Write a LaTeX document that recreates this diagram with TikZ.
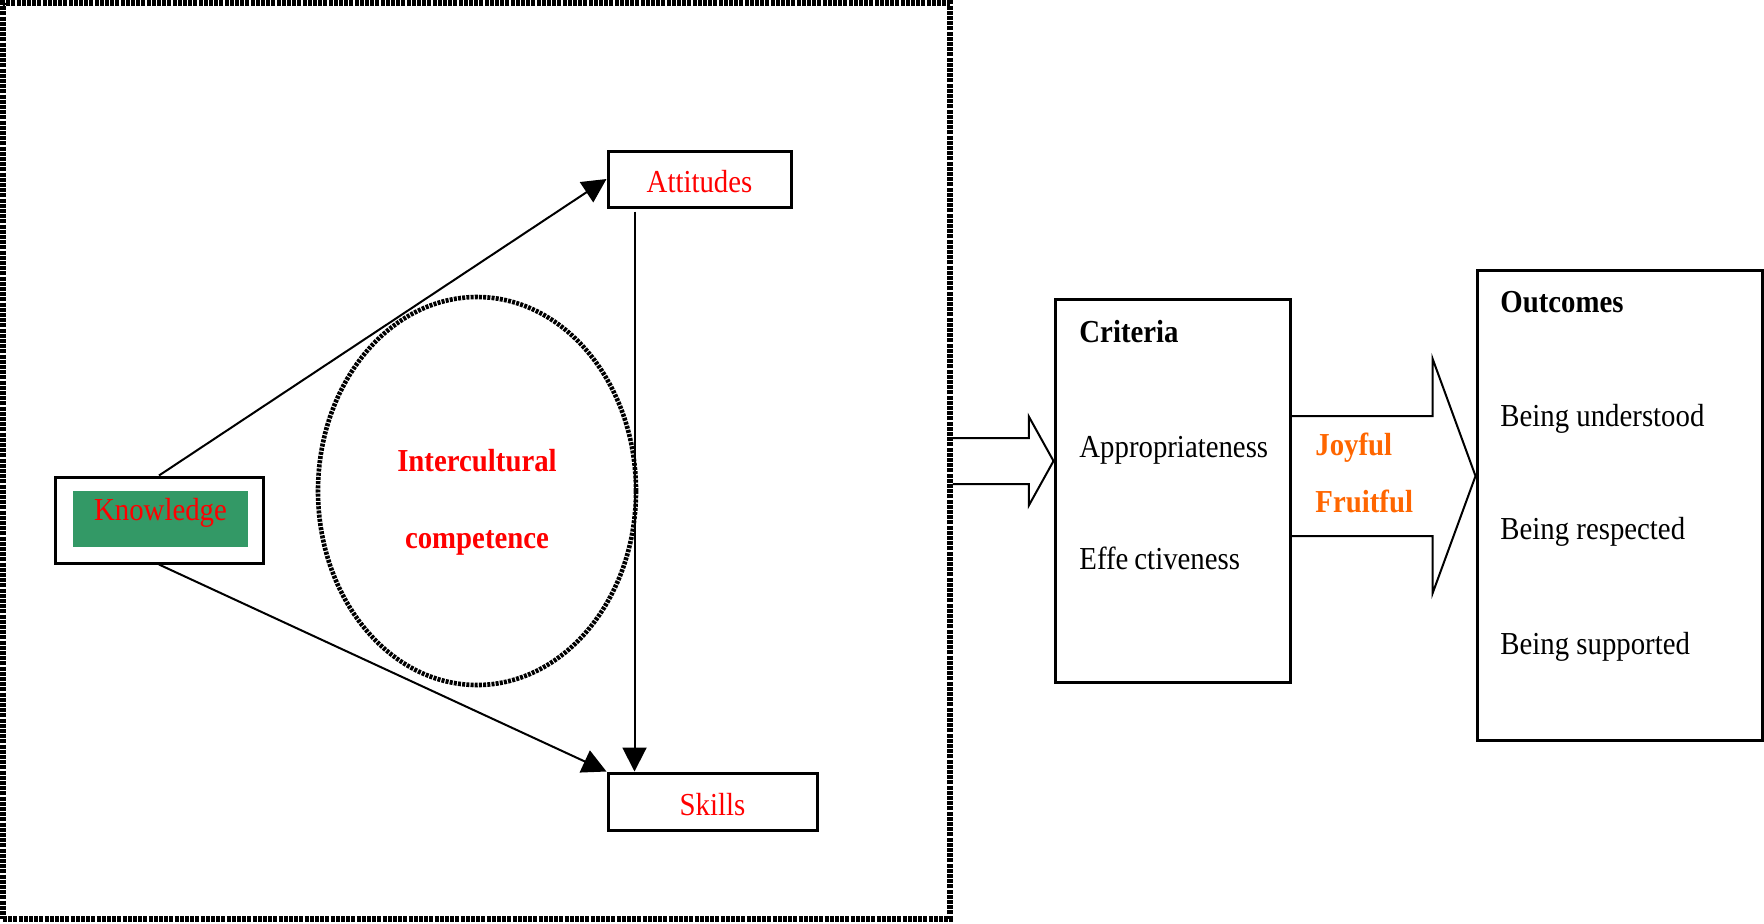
\documentclass[tikz,border=0pt]{standalone}
\usepackage{fontspec}
\setmainfont[FakeStretch=0.9]{Liberation Serif}
\usetikzlibrary{arrows.meta,calc,shapes.geometric}
\definecolor{kgreen}{RGB}{51,153,102}
\definecolor{jorange}{RGB}{255,102,0}

\begin{document}
\begin{tikzpicture}[
      x=0.5pt, y=-0.5pt,
      every node/.style={font=\fontsize{16}{19}\selectfont},
      box/.style={draw, line width=1.5pt, inner sep=0pt},
      starline/.style={draw, line width=2.8pt, dash pattern=on 2pt off 0.6pt},
      ringline/.style={draw, line width=2.3pt, dash pattern=on 1.5pt off 0.6pt},
      txt/.style={inner sep=0pt, anchor=west},
      head/.style={txt, font=\bfseries\fontsize{16}{19}\selectfont},
      link/.style={line width=1pt, -{Triangle[length=12pt,width=12pt]}},
      blk/.style={line width=1pt}
    ]
\useasboundingbox (0,0) rectangle (1764,923);

% Left panel
      \node[starline, minimum width=473.5pt, minimum height=458pt] (panel) at (476.5,461) {};
      \node[box, minimum width=104pt, minimum height=43pt] (kbox) at (159,520) {};
      \node[fill=kgreen, text=red, inner sep=0pt, minimum width=87.5pt, minimum height=28pt,
      text depth=10pt] (know) at (160.5,519) {Knowledge};
      \node[box, text=red, minimum width=91.5pt, minimum height=28pt, text height=14pt] (att) at (699.5,179) {Attitudes};
      \node[box, text=red, minimum width=104.5pt, minimum height=28.5pt, text height=14pt] (skills) at (712.5,801.5) {Skills};
      \node[ellipse, ringline, minimum width=159pt, minimum height=194pt] (ic) at (477,491) {};
      \node[text=red, align=center, font=\bfseries\fontsize{16}{38.5}\selectfont] (ict)
      at ($(ic.center)+(0,11)$) {Intercultural\\competence};

% Connections
      \draw[link] (kbox.north) -- (att.west);
      \draw[link] (kbox.south) -- (skills.north west);
      \draw[link] ($(att.south west)+(28,3)$) -- ($(skills.north west)+(28,0)$);

% Criteria
      \node[box, minimum width=117.5pt, minimum height=191.5pt] (crit) at (1172.5,490.5) {};
      \node[head] (critt) at (1079,332) {Criteria};
      \node[txt] (appr) at (1079,450) {Appropriateness};
      \node[txt] (effe) at (1079,558) {Effe\kern3pt ctiveness};

% Outcomes
      \node[box, minimum width=142.5pt, minimum height=235pt] (outc) at (1619.5,505) {};
      \node[head] (outt) at (1500,302) {Outcomes};
      \node[txt] (und) at (1500,419) {Being understood};
      \node[txt] (resp) at (1500,532) {Being respected};
      \node[txt] (supp) at (1500,647) {Being supported};

% Block arrows
      \coordinate (ltip) at (crit.west |- panel.east);
      \coordinate (lhead) at ($(panel.east)+(76,0)$);
      \draw[blk] ($(lhead)+(-76,-23)$) -- ($(lhead)+(0,-23)$) -- ($(lhead)+(0,-44.5)$) -- (ltip)
      -- ($(lhead)+(0,44.5)$) -- ($(lhead)+(0,23)$) -- ($(lhead)+(-76,23)$);

      \coordinate (rtip) at ($(outc.west)+(0,-29)$);
      \coordinate (rhead) at ($(crit.east |- rtip)+(141,0)$);
      \draw[blk] ($(rhead)+(-141,-60)$) -- ($(rhead)+(0,-60)$) -- ($(rhead)+(0,-117.5)$) -- (rtip)
      -- ($(rhead)+(0,117.5)$) -- ($(rhead)+(0,60)$) -- ($(rhead)+(-141,60)$);
      \node[head, text=jorange] (joy) at (1315,448) {Joyful};
      \node[head, text=jorange] (fruit) at (1315,501) {Fruitful};

    \end{tikzpicture}
\end{document}
